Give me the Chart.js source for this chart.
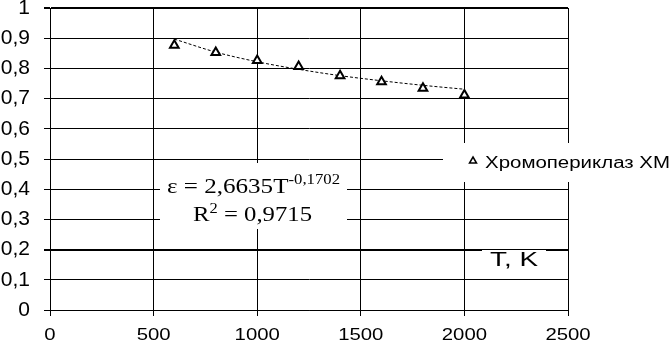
<!DOCTYPE html>
<html>
<head>
<meta charset="utf-8">
<script src="https://cdn.jsdelivr.net/npm/chart.js"></script>
<style>
  html, body { margin: 0; padding: 0; background: #fff; }
  #wrap { width: 672px; height: 342px; }
</style>
</head>
<body>
<div id="wrap"><canvas id="epsChart" width="672" height="342"></canvas></div>
<script>
// measured points (T, K -> emissivity)
const temps = [600, 800, 1000, 1200, 1400, 1600, 1800, 2000];
const epsValues = [0.877, 0.853, 0.826, 0.806, 0.776, 0.756, 0.734, 0.712];

// power trendline
const trendT = [600, 800, 1000, 1200, 1400, 1600, 1800, 2000];
const trendEps = [0.897, 0.854, 0.822, 0.797, 0.776, 0.759, 0.744, 0.731];

const xTicks = [0, 500, 1000, 1500, 2000, 2500];
const yTicks = [0, 0.1, 0.2, 0.3, 0.4, 0.5, 0.6, 0.7, 0.8, 0.9, 1];

const seriesName = "Хромопериклаз ХМ";
const axisTitle = "T, K";
const eqMain = "ε = 2,6635T";
const eqPow = "-0,1702";
const r2Main = "R";
const r2Sup = "2";
const r2Rest = " = 0,9715";

// draw text squeezed/stretched to a given width
function fitText(ctx, pieces, x, baseline, width) {
    let total = 0;
    pieces.forEach(p => { ctx.font = p.font; total += ctx.measureText(p.text).width; });
    const sx = width ? width / total : 1;
    ctx.save();
    ctx.translate(x, baseline);
    ctx.scale(sx, 1);
    let cx = 0;
    pieces.forEach(p => {
        ctx.font = p.font;
        ctx.fillText(p.text, cx, p.dy || 0);
        cx += ctx.measureText(p.text).width;
    });
    ctx.restore();
}

const overlay = {
    id: 'overlay',
    beforeDatasetsDraw(chart) {
        const ctx = chart.ctx;
        ctx.save();
        ctx.fillStyle = '#fff';
        ctx.fillRect(160, 163, 187, 66);   // equation box
        ctx.fillRect(443, 143, 229, 39);   // legend box
        ctx.fillRect(482, 250, 64, 20);    // axis title
        ctx.restore();
    },
    afterDatasetsDraw(chart) {
        const ctx = chart.ctx;
        ctx.save();
        ctx.fillStyle = '#000';
        ctx.textAlign = 'left';
        ctx.textBaseline = 'alphabetic';

        // x tick labels (a bit wider than the font, like the original)
        const xs = chart.scales.x;
        xs.ticks.forEach(t => {
            const label = String(t.value);
            ctx.font = '16px "Liberation Sans"';
            const w = ctx.measureText(label).width * 1.27;
            fitText(ctx, [{ text: label, font: '16px "Liberation Sans"' }],
                xs.getPixelForValue(t.value) - w / 2, 340, w);
        });

        // equation
        fitText(ctx, [
            { text: eqMain, font: '21px "Liberation Serif"' },
            { text: eqPow, font: '14px "Liberation Serif"', dy: -9 }
        ], 167, 193, 173);
        fitText(ctx, [
            { text: r2Main, font: '21px "Liberation Serif"' },
            { text: r2Sup, font: '14px "Liberation Serif"', dy: -8 },
            { text: r2Rest, font: '21px "Liberation Serif"' }
        ], 193, 221, 119);

        // legend
        ctx.beginPath();
        ctx.moveTo(473, 157);
        ctx.lineTo(476.5, 163);
        ctx.lineTo(469.5, 163);
        ctx.closePath();
        ctx.lineWidth = 1.5;
        ctx.strokeStyle = '#000';
        ctx.stroke();
        fitText(ctx, [{ text: seriesName, font: '16px "Liberation Sans"' }], 485, 168, 185);

        // axis title
        fitText(ctx, [{ text: axisTitle, font: '21px "Liberation Sans"' }], 490, 266, 48);
        ctx.restore();
    }
};

new Chart("epsChart", {
    type: "scatter",
    data: {
        datasets: [{
            label: seriesName,
            data: temps.map((t, i) => ({ x: t, y: epsValues[i] })),
            pointStyle: 'triangle',
            pointRadius: 5,
            pointBorderWidth: 2,
            pointBackgroundColor: '#fff',
            pointBorderColor: '#000',
            showLine: false
        }, {
            label: 'trend',
            data: trendT.map((t, i) => ({ x: t, y: trendEps[i] })),
            showLine: true,
            pointRadius: 0,
            borderColor: '#000',
            borderWidth: 1,
            borderDash: [3, 2],
            tension: 0.4,
            cubicInterpolationMode: 'monotone'
        }]
    },
    options: {
        responsive: false,
        animation: false,
        layout: { padding: { top: 8, right: 104, left: 0, bottom: 0 } },
        plugins: {
            legend: { display: false },
            tooltip: { enabled: false }
        },
        scales: {
            x: {
                type: 'linear',
                min: 0,
                max: 2500,
                afterFit: s => { s.height = 32; s.paddingLeft = 0; s.paddingRight = 0; },
                afterBuildTicks: s => { s.ticks = xTicks.map(v => ({ value: v })); },
                grid: { color: '#000', lineWidth: 1, tickLength: 6 },
                border: { color: '#000', width: 1 },
                ticks: { display: false }
            },
            y: {
                min: 0,
                max: 1,
                afterFit: s => { s.width = 50; s.paddingTop = 0; s.paddingBottom = 0; },
                afterBuildTicks: s => { s.ticks = yTicks.map(v => ({ value: v })); },
                grid: {
                    color: '#000',
                    tickLength: 6,
                    lineWidth: c => (c.tick && (Math.abs(c.tick.value - 1) < 1e-6 || Math.abs(c.tick.value - 0.2) < 1e-6)) ? 2 : 1
                },
                border: { color: '#000', width: 1 },
                ticks: {
                    color: '#000',
                    padding: 14,
                    font: { family: 'Liberation Sans', size: 21 },
                    callback: v => (v === 0 || v === 1) ? String(v) : v.toFixed(1).replace('.', ',')
                }
            }
        }
    },
    plugins: [overlay]
});
</script>
</body>
</html>
